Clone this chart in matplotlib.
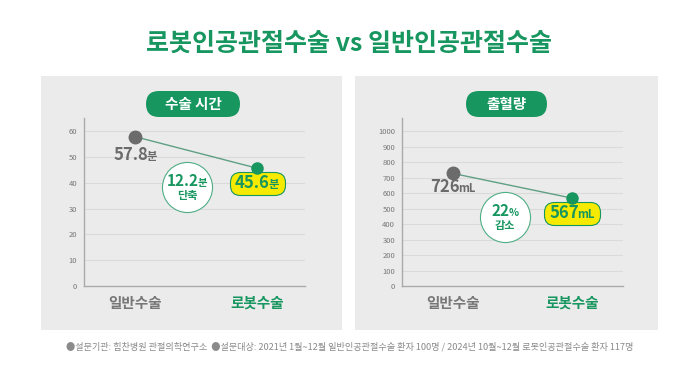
import numpy as np
import matplotlib
matplotlib.use("Agg")
import matplotlib.pyplot as plt
import matplotlib.transforms as mtransforms
from matplotlib.patches import FancyBboxPatch, Rectangle
from matplotlib.offsetbox import TextArea, HPacker, VPacker, AnnotationBbox, DrawingArea

plt.rcParams['font.family'] = ['Noto Sans CJK KR', 'DejaVu Sans']

# data
categories = ['일반수술', '로봇수술']
time_vals = [57.8, 45.6]
blood_vals = [726, 567]
time_ticks = [0, 10, 20, 30, 40, 50, 60]
blood_ticks = [0, 100, 200, 300, 400, 500, 600, 700, 800, 900, 1000]
time_unit = '분'
blood_unit = 'mL'
time_note = ('12.2', '분', '단축')
blood_note = ('22', '%', '감소')
panel_titles = ['수술 시간', '출혈량']
main_title = '로봇인공관절수술 vs 일반인공관절수술'
footnote = ('●설문기관: 힘찬병원 관절의학연구소  ●설문대상: 2021년 1월~12월 일반인공관절수술 환자 100명 / '
            '2024년 10월~12월 로봇인공관절수술 환자 117명')

GREEN = '#17965f'
GRAY = '#6b6b6b'
YELLOW = '#f6ea00'
W, H = 699, 385

fig = plt.figure(figsize=(W / 100, H / 100), dpi=100)
fig.patch.set_facecolor('white')
pix = mtransforms.IdentityTransform()


def rect(x0, y0, x1, y1):
    # pixel box (top-left origin) -> figure fraction
    return [x0 / W, 1 - y1 / H, (x1 - x0) / W, (y1 - y0) / H]


# gray panels
for x0, x1 in [(41, 342), (355, 658)]:
    fig.patches.append(Rectangle((x0, H - 330), x1 - x0, 254, transform=pix,
                                 facecolor='#ebebeb', edgecolor='none', zorder=-2))

# title pills
for (x0, x1), t in zip([(146, 240), (466, 547)], panel_titles):
    fig.patches.append(FancyBboxPatch((x0, H - 117), x1 - x0, 26, transform=pix,
                                      boxstyle='round,pad=0,rounding_size=13',
                                      facecolor=GREEN, edgecolor='none', zorder=-1))
    fig.text((x0 + x1) / 2 / W, 1 - 104 / H, t, ha='center', va='center',
             fontsize=10.5, fontweight='bold', color='white', zorder=2)

fig.text(0.5, 1 - 44 / H, main_title, ha='center', va='center',
         fontsize=18, fontweight='bold', color=GREEN)
fig.text(0.5, 1 - 347 / H, footnote, ha='center', va='center',
         fontsize=6.6, color='#8a8a8a')


def value_box(num, unit, color, size=12, side=0):
    kids = [TextArea(num, textprops=dict(fontsize=size, fontweight='bold', color=color)),
            TextArea(unit, textprops=dict(fontsize=size * 0.68, fontweight='bold', color=color))]
    if side:
        kids = [DrawingArea(side, 1)] + kids + [DrawingArea(side, 1)]
    return HPacker(children=kids, align='baseline', pad=0, sep=-1)


def draw_panel(box, vals, ticks, xlim, unit, note, note_pos, gray_off, yel_off):
    ax = fig.add_axes(rect(*box))
    ax.set_zorder(3)
    ax.set_facecolor('none')
    top = ticks[-1] * 168 / 155
    ax.set_ylim(0, top)
    ax.set_xlim(*xlim)
    ax.set_yticks(ticks)
    ax.set_yticklabels([str(t) for t in ticks])
    ax.tick_params(axis='y', length=0, pad=5, labelsize=5.5, labelcolor='#777777')
    ax.set_xticks([0, 1])
    ax.set_xticklabels(categories)
    ax.tick_params(axis='x', length=0, pad=6.5, labelsize=10.5)
    for lbl, c in zip(ax.get_xticklabels(), ['#777777', GREEN]):
        lbl.set_color(c)
        lbl.set_fontweight('bold')
    for t in ticks[1:]:
        ax.axhline(t, color='#dadada', lw=0.8, zorder=1)
    for s in ['top', 'right']:
        ax.spines[s].set_visible(False)
    for s in ['left', 'bottom']:
        ax.spines[s].set_color('#aaaaaa')
        ax.spines[s].set_linewidth(1)

    ax.plot([0, 1], vals, color='#5f9f84', lw=1, zorder=3)
    ax.plot(0, vals[0], 'o', ms=9, color=GRAY, zorder=6)
    ax.plot(1, vals[1], 'o', ms=8, color=GREEN, zorder=6)

    num0 = ('%g' % vals[0])
    num1 = ('%g' % vals[1])
    ab = AnnotationBbox(value_box(num0, unit, GRAY), (0, vals[0]),
                        xybox=(0, gray_off), boxcoords='offset points',
                        frameon=False, box_alignment=(0.5, 0.5))
    ab.set_zorder(4)
    ax.add_artist(ab)
    ab = AnnotationBbox(value_box(num1, unit, GREEN, side=3), (1, vals[1]),
                        xybox=(0, yel_off), boxcoords='offset points',
                        frameon=True, box_alignment=(0.5, 0.5), pad=0,
                        bboxprops=dict(boxstyle='round,pad=0.2,rounding_size=0.75',
                                       facecolor=YELLOW, edgecolor=GREEN, lw=0.8))
    ab.set_zorder(5)
    ax.add_artist(ab)

    # circle callout
    ax.scatter([note_pos[0]], [note_pos[1]], s=1300, transform=ax.transAxes,
               facecolor='white', edgecolor='#4fae86', lw=0.8, zorder=4, clip_on=False)
    inner = VPacker(children=[value_box(note[0], note[1], GREEN, size=11),
                              TextArea(note[2], textprops=dict(fontsize=8, fontweight='bold',
                                                                color=GREEN))],
                    align='center', pad=0, sep=0)
    ab = AnnotationBbox(inner, note_pos, xycoords='axes fraction', frameon=False,
                        box_alignment=(0.5, 0.5))
    ab.set_zorder(5)
    ax.add_artist(ab)
    return ax


draw_panel((84, 118, 305, 286), time_vals, time_ticks, (-0.418, 1.393),
           time_unit, time_note, (0.466, 0.589), -13, -11)
draw_panel((402, 118, 623, 286), blood_vals, blood_ticks, (-0.43, 1.43),
           blood_unit, blood_note, (0.466, 0.41), -9.5, -11)

fig.savefig('out.png', dpi=100, facecolor='white')
